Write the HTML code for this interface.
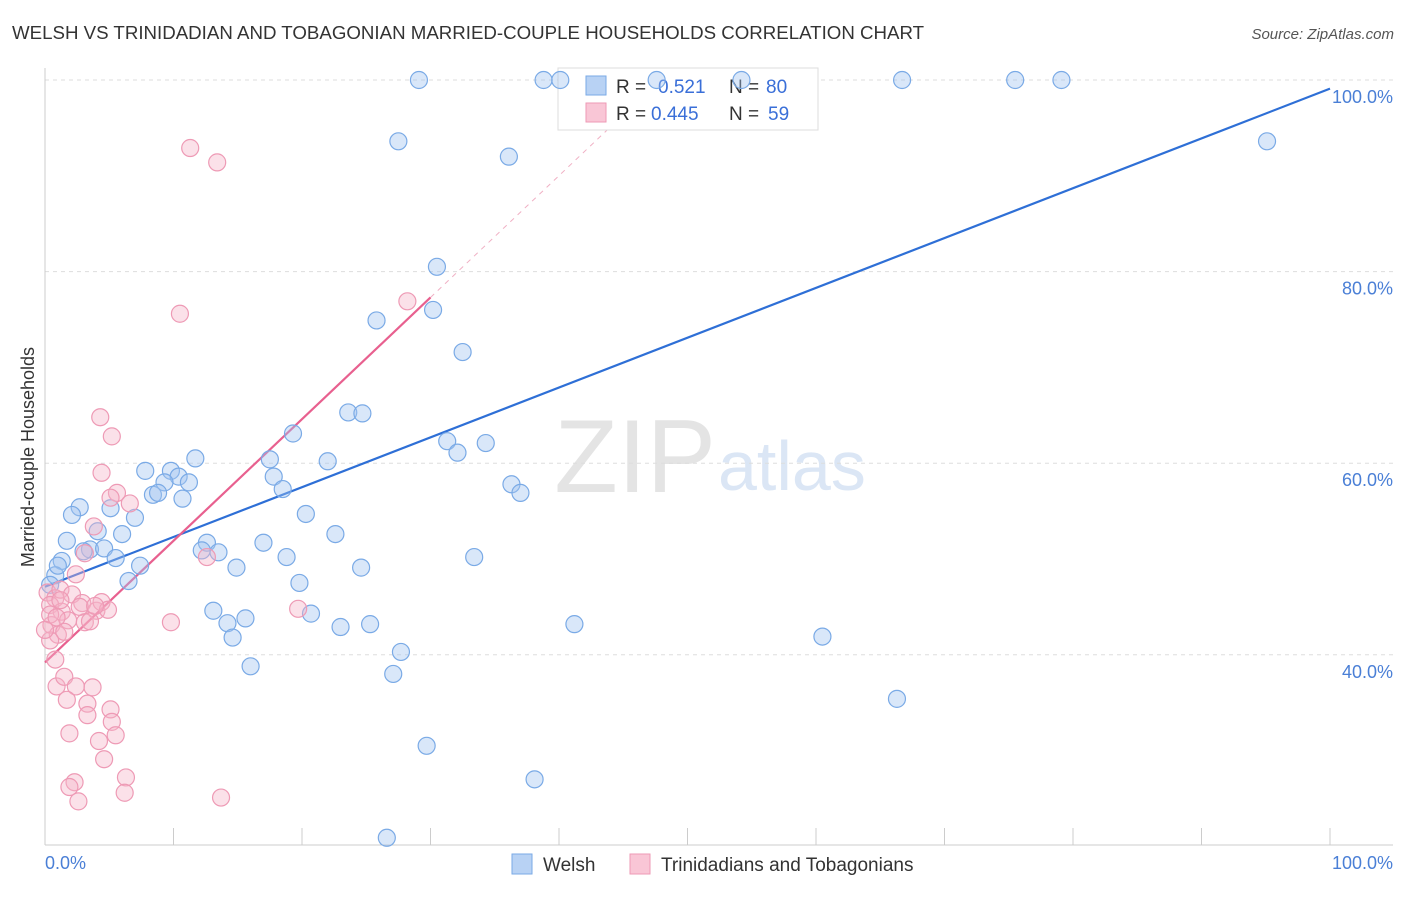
<!DOCTYPE html>
<html><head><meta charset="utf-8"><style>
body{margin:0;background:#fff;font-family:"Liberation Sans",sans-serif}
svg text{font-family:"Liberation Sans",sans-serif}
</style></head><body>
<svg id="chart" width="1406" height="892" xmlns="http://www.w3.org/2000/svg">
<text x="12" y="39" font-size="18.7" fill="#333">WELSH VS TRINIDADIAN AND TOBAGONIAN MARRIED-COUPLE HOUSEHOLDS CORRELATION CHART</text>
<text x="1394" y="39" font-size="15" fill="#555" text-anchor="end" font-style="italic">Source: ZipAtlas.com</text>
<text x="716" y="492" font-size="104" fill="#e4e4e4" text-anchor="end" font-family="Liberation Serif">ZIP</text>
<text x="718" y="490" font-size="70" fill="#dbe6f5">atlas</text>
<g id="grid"></g>
<g id="axes"></g>
<g id="lines"></g>
<g id="toplegend">
<rect x="558" y="68" width="260" height="62" fill="#fff" stroke="#ddd"/>
<rect x="586" y="76" width="20" height="19" fill="#b8d2f4" stroke="#7aaae6"/>
<rect x="586" y="103" width="20" height="19" fill="#f9c6d6" stroke="#ee9ab5"/>
<text x="616" y="93" font-size="19" fill="#333">R =</text>
<text x="658" y="93" font-size="19" fill="#3a6fd8">0.521</text>
<text x="729" y="93" font-size="19" fill="#333">N =</text>
<text x="766" y="93" font-size="19" fill="#3a6fd8">80</text>
<text x="616" y="120" font-size="19" fill="#333">R =</text>
<text x="651" y="120" font-size="19" fill="#3a6fd8">0.445</text>
<text x="729" y="120" font-size="19" fill="#333">N =</text>
<text x="768" y="120" font-size="19" fill="#3a6fd8">59</text>
</g>
<g id="pts"></g>
<text transform="translate(34,457) rotate(-90)" font-size="18" fill="#333" text-anchor="middle">Married-couple Households</text>
<text x="45" y="869" font-size="18" fill="#4a7fd6">0.0%</text>
<text x="1393" y="869" font-size="18" fill="#4a7fd6" text-anchor="end">100.0%</text>
<g>
<rect x="512" y="854" width="20" height="20" fill="#b8d2f4" stroke="#7aaae6"/>
<text x="543" y="871" font-size="19" fill="#333">Welsh</text>
<rect x="630" y="854" width="20" height="20" fill="#f9c6d6" stroke="#ee9ab5"/>
<text x="661" y="871" font-size="19" fill="#333">Trinidadians and Tobagonians</text>
</g>
</svg>
<script>
const yTicks=[40,60,80,100];
const yTickLabels=["40.0%","60.0%","80.0%","100.0%"];
const xTicks=[0,10,20,30,40,50,60,70,80,90,100];
const welshX=[29.1,38.8,40.1,47.6,54.2,66.7,75.5,79.1,95.1,27.5,36.1,30.5,30.2,25.8,32.5,23.6,24.7,19.3,31.3,32.1,34.3,11.7,17.5,22.0,7.8,9.8,10.4,9.3,11.2,17.8,18.5,36.3,37.0,8.4,8.8,10.7,2.7,5.1,2.1,7.0,20.3,4.1,6.0,22.6,1.7,12.6,17.0,1.3,3.5,3.0,4.6,12.2,13.5,18.8,33.4,5.5,7.4,14.9,24.6,0.8,6.5,19.8,13.1,15.6,20.7,14.2,23.0,25.3,41.2,14.6,60.5,27.7,16.0,27.1,66.3,29.7,38.1,26.6,1.0,0.4];
const welshY=[100,100,100,100,100,100,100,100,93.6,93.6,92.0,80.5,76.0,74.9,71.6,65.3,65.2,63.1,62.3,61.1,62.1,60.5,60.4,60.2,59.2,59.2,58.6,58.0,58.0,58.6,57.3,57.8,56.9,56.7,56.9,56.3,55.4,55.3,54.6,54.3,54.7,52.9,52.6,52.6,51.9,51.7,51.7,49.8,51.0,50.8,51.1,50.9,50.7,50.2,50.2,50.1,49.3,49.1,49.1,48.3,47.7,47.5,44.6,43.8,44.3,43.3,42.9,43.2,43.2,41.8,41.9,40.3,38.8,38.0,35.4,30.5,27.0,20.9,49.3,47.3];
const trinX=[11.3,13.4,10.5,28.2,4.3,5.2,4.4,5.6,5.1,6.6,3.8,3.1,12.6,2.4,19.7,9.8,0.2,0.8,1.2,2.1,0.4,1.3,2.9,4.0,4.4,1.8,2.7,3.1,0.5,1.0,1.5,0.4,0.8,0.9,1.5,2.4,3.7,1.7,3.3,5.1,3.3,5.2,5.5,1.9,4.2,4.6,6.3,2.3,1.9,6.2,2.6,13.7,0.4,0.9,3.5,0,4.9,3.9,1.2];
const trinY=[92.9,91.4,75.6,76.9,64.8,62.8,59.0,56.9,56.4,55.8,53.4,50.6,50.2,48.4,44.8,43.4,46.5,45.9,46.8,46.3,45.2,44.5,45.4,44.6,45.5,43.6,45.0,43.4,43.1,42.1,42.4,41.5,39.5,36.7,37.7,36.7,36.6,35.3,34.9,34.3,33.7,33.0,31.6,31.8,31.0,29.1,27.2,26.7,26.2,25.6,24.7,25.1,44.2,43.9,43.5,42.6,44.7,45.1,45.7];
const welshLine=[[0,47.1],[100,99.1]];
const trinLine=[[0,39.2],[30,77.3]];
const trinDash=[[30,77.3],[44,95.1]];
const sx=v=>45+v*12.85, sy=v=>80+(100-v)*9.58;
const NS="http://www.w3.org/2000/svg";
function mk(t,a,p){const e=document.createElementNS(NS,t);for(const k in a)e.setAttribute(k,a[k]);p.appendChild(e);return e;}
const grid=document.getElementById('grid'),axes=document.getElementById('axes'),pts=document.getElementById('pts'),lines=document.getElementById('lines');
yTicks.forEach((v,i)=>{
 const l=mk('line',{x1:45,x2:1393,y1:sy(v),y2:sy(v),stroke:'#ddd','stroke-dasharray':'4,4'},grid);
 
 
 const t=mk('text',{x:1393,y:sy(v)+23,'font-size':18,fill:'#4a7fd6','text-anchor':'end'},grid);
 t.textContent=yTickLabels[i];
 
 
});
const ya=mk('line',{x1:45,x2:45,y1:68,y2:845,stroke:'#ccc'},axes);


const xa=mk('line',{x1:45,x2:1393,y1:845,y2:845,stroke:'#ccc'},axes);


xTicks.forEach(v=>{
 const t=mk('line',{x1:sx(v),x2:sx(v),y1:828,y2:845,stroke:'#ccc'},axes);
 
 
});
function dots(X,Y,fill,stroke,name){X.forEach((x,i)=>{
 const c=mk('circle',{cx:sx(x),cy:sy(Y[i]),r:8.5,fill:fill,stroke:stroke,'stroke-width':1.2},pts);
 
 
});}
dots(welshX,welshY,'rgba(160,196,240,0.4)','#7aaae6','welsh-point');
dots(trinX,trinY,'rgba(245,180,200,0.4)','#ee9ab5','trinidad-point');
function ln(L,col,w,dash,name){const l=mk('line',{x1:sx(L[0][0]),y1:sy(L[0][1]),x2:sx(L[1][0]),y2:sy(L[1][1]),stroke:col,'stroke-width':w},lines);
 if(dash)l.setAttribute('stroke-dasharray',dash);
 
 }
ln(trinDash,'#f0b0c4',1,'5,5','trinidad-trend-extension');
ln(welshLine,'#2e6fd6',2.2,null,'welsh-trend-line');
ln(trinLine,'#e8608f',2.2,null,'trinidad-trend-line');
</script>
</body></html>
